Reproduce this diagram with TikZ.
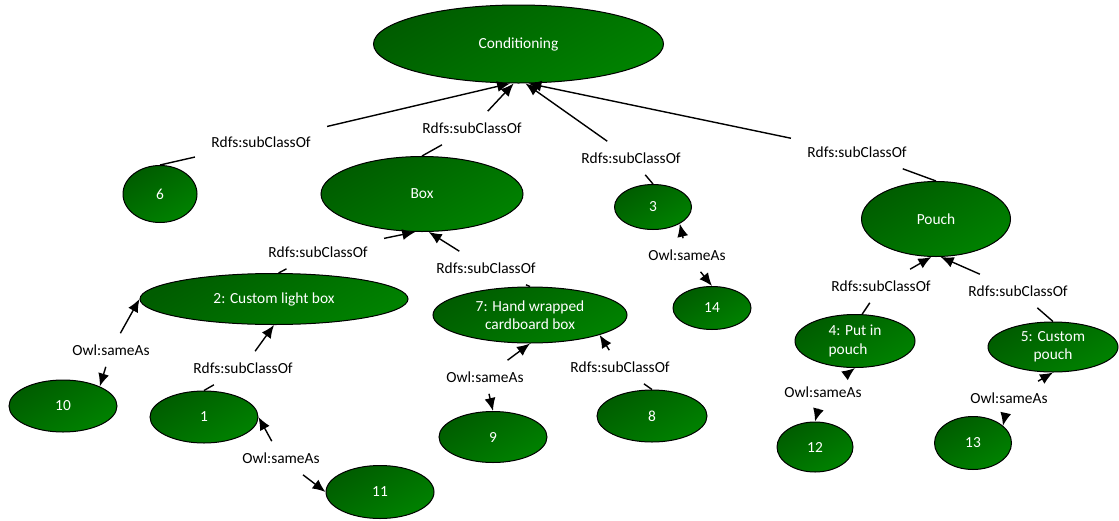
\documentclass[tikz,border=0pt]{standalone}
\usepackage{fontspec}
\setmainfont{Carlito}
\usetikzlibrary{shapes.geometric,arrows.meta}
\definecolor{greendark}{RGB}{0,92,0}
\definecolor{greenlight}{RGB}{0,130,0}
\tikzset{>={Latex[length=6.5pt,width=5.5pt]}}
\tikzset{font=\fontsize{7.7}{9.2}\selectfont}
\tikzset{concept/.style={ellipse, draw=black, line width=0.5pt, inner sep=0pt,
    text=white, top color=greendark, bottom color=greenlight, shading angle=30,
    align=center},
  rel/.style={inner xsep=8pt, inner ysep=5.5pt, text=black},
  link/.style={line width=0.7pt}}

\begin{document}
\begin{tikzpicture}[x=0.5pt,y=-0.5pt]
  \useasboundingbox (0,0) rectangle (1119,520);
  % classes
  \node[concept, minimum width=145pt, minimum height=39pt] (cond) at (518.5,44) {Conditioning};
  \node[concept, minimum width=37pt, minimum height=28.5pt] (n6) at (160,194) {6};
  \node[concept, minimum width=101pt, minimum height=37.5pt] (box) at (422,194) {Box};
  \node[concept, minimum width=38.5pt, minimum height=22.5pt] (n3) at (653,207) {3};
  \node[concept, minimum width=74.5pt, minimum height=37.5pt] (pouch) at (936,219) {Pouch};
  \node[concept, minimum width=39pt, minimum height=21.5pt] (n14) at (712,308) {14};
  \node[concept, minimum width=134pt, minimum height=25.5pt] (n2) at (274,299) {2: Custom light box};
  \node[concept, minimum width=97pt, minimum height=28pt] (n7) at (530,315) {7: Hand wrapped\\cardboard box};
  \node[concept, minimum width=54pt, minimum height=26pt] (n10) at (63,406) {10};
  \node[concept, minimum width=54pt, minimum height=26pt] (n1) at (204,417) {1};
  \node[concept, minimum width=54pt, minimum height=26.5pt] (n11) at (380,492) {11};
  \node[concept, minimum width=54pt, minimum height=25.5pt] (n9) at (493,437) {9};
  \node[concept, minimum width=55pt, minimum height=26pt] (n8) at (652,416) {8};
  \node[concept, minimum width=60pt, minimum height=26.5pt, align=left] (n4) at (855,341) {4: Put in\\pouch};
  \node[concept, minimum width=65pt, minimum height=25pt] (n5) at (1053,347) {5: Custom\\pouch};
  \node[concept, minimum width=38pt, minimum height=25pt] (n12) at (815,447) {12};
  \node[concept, minimum width=38.5pt, minimum height=26.5pt] (n13) at (973,443) {13};

  % relation labels
  \node[rel] (l1) at (261,142) {Rdfs:subClassOf};
  \node[rel] (l2) at (472,128) {Rdfs:subClassOf};
  \node[rel] (l3) at (631,158) {Rdfs:subClassOf};
  \node[rel] (l4) at (857,152) {Rdfs:subClassOf};
  \node[rel] (l5) at (318,252) {Rdfs:subClassOf};
  \node[rel] (l6) at (486,268) {Rdfs:subClassOf};
  \node[rel] (l7) at (111,350) {Owl:sameAs};
  \node[rel] (l8) at (243,368) {Rdfs:subClassOf};
  \node[rel] (l9) at (281,458) {Owl:sameAs};
  \node[rel] (l10) at (485,377) {Owl:sameAs};
  \node[rel] (l11) at (620,367) {Rdfs:subClassOf};
  \node[rel] (l12) at (687,255) {Owl:sameAs};
  \node[rel] (l13) at (881,286) {Rdfs:subClassOf};
  \node[rel] (l14) at (1018,291) {Rdfs:subClassOf};
  \node[rel] (l15) at (823,392) {Owl:sameAs};
  \node[rel] (l16) at (1009,398) {Owl:sameAs};

  % subClassOf links
  \draw[link] (n6.north) -- (l1);   \draw[link,->] (l1) -- (cond.-102);
  \draw[link] (box.north) -- (l2);  \draw[link,->] (l2) -- (cond.-97);
  \draw[link] (n3.north) -- (l3);   \draw[link,->] (l3) -- (cond.-80);
  \draw[link] (pouch.north) -- (l4); \draw[link,->] (l4) -- (cond.-76);
  \draw[link] (n2.80) -- (l5);      \draw[link,->] (l5) -- (box.-100);
  \draw[link] (n7.north) -- (l6);   \draw[link,->] (l6) -- (box.-80);
  \draw[link] (n1.north) -- (l8);   \draw[link,->] (l8) -- (n2.south);
  \draw[link] (n8.north) -- (l11);  \draw[link,->] (l11) -- (n7.-16);
  \draw[link] (n4.75) -- (l13);     \draw[link,->] (l13) -- (pouch.-97);
  \draw[link] (n5.north) -- (l14);  \draw[link,->] (l14) -- (pouch.-83);

  % sameAs links
  \draw[link,->] (l7) -- (n2.west);   \draw[link,->] (l7) -- (n10.28);
  \draw[link,->] (l9) -- (n1.east);   \draw[link,->] (l9) -- (n11.west);
  \draw[link,->] (l10) -- (n7.south); \draw[link,->] (l10) -- (n9.north);
  \draw[link,->] (l12) -- (n3.-32);   \draw[link,->] (l12) -- (n14.north);
  \draw[link,->] (l15) -- (n4.south); \draw[link,->] (l15) -- (n12.north);
  \draw[link,->] (l16) -- (n5.south); \draw[link,->] (l16) -- (n13.30);
\end{tikzpicture}
\end{document}
